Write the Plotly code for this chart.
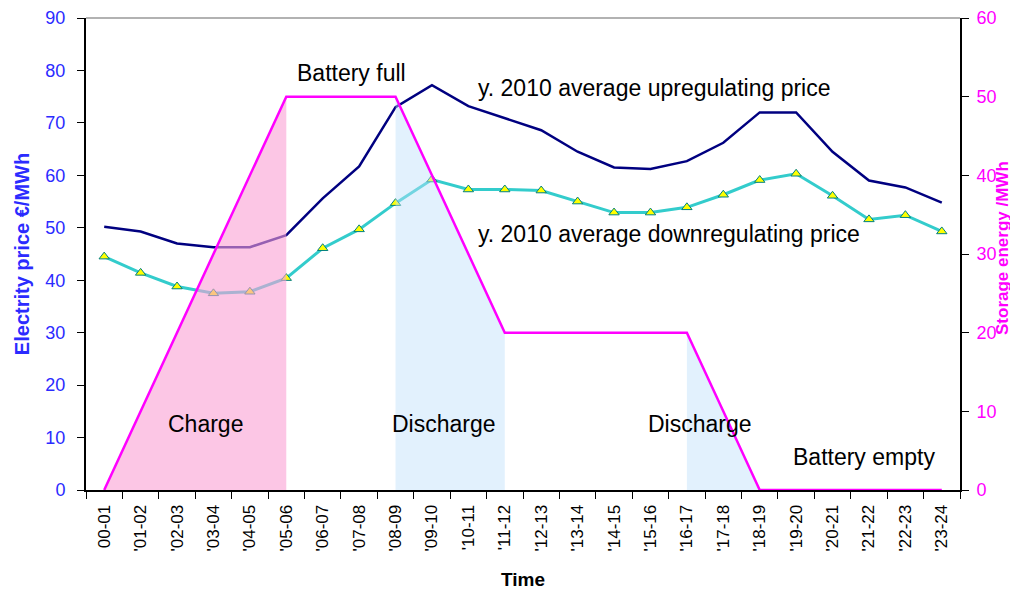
import plotly.graph_objects as go

HOURS = ["00-01"] + [f"'{h:02d}-{h + 1:02d}" for h in range(1, 24)]

UP_PRICE = [50.2, 49.3, 47.0, 46.3, 46.3, 48.6, 55.6, 61.7, 73.0, 77.2, 73.2, 70.9,
            68.6, 64.5, 61.5, 61.2, 62.7, 66.2, 72.0, 72.0, 64.5, 59.0, 57.7, 54.8]
DOWN_PRICE = [44.5, 41.4, 38.8, 37.5, 37.8, 40.4, 46.1, 49.7, 54.7, 59.2, 57.3, 57.3,
              57.1, 55.0, 52.9, 52.9, 53.9, 56.3, 59.1, 60.3, 56.1, 51.6, 52.4, 49.3]
STORAGE = [0, 10, 20, 30, 40, 50, 50, 50, 50, 40, 30, 20,
           20, 20, 20, 20, 20, 10, 0, 0, 0, 0, 0, 0]

CHARGE = slice(0, 6)
DISCHARGE_1 = slice(8, 12)
DISCHARGE_2 = slice(16, 19)

FONT = "Liberation Sans, Arial, sans-serif"
BLUE = "#2B2BFF"
MAGENTA = "#FF00FF"

fig = go.Figure()

fig.add_trace(go.Scatter(
    x=HOURS, y=UP_PRICE, mode="lines", name="upregulating",
    line=dict(color="#000080", width=2.5),
))
fig.add_trace(go.Scatter(
    x=HOURS, y=DOWN_PRICE, mode="lines+markers", name="downregulating",
    line=dict(color="#33CCCC", width=3),
    marker=dict(symbol="triangle-up", size=9, color="#FFFF00",
                line=dict(color="#008080", width=1)),
))

# shaded charge / discharge areas (under the storage curve)
for sl, col in [(CHARGE, "rgba(250,160,212,0.6)"),
                (DISCHARGE_1, "rgba(190,225,250,0.45)"),
                (DISCHARGE_2, "rgba(190,225,250,0.45)")]:
    fig.add_trace(go.Scatter(
        x=HOURS[sl], y=STORAGE[sl], yaxis="y2", mode="lines",
        line=dict(width=0), fill="tozeroy", fillcolor=col, hoverinfo="skip",
    ))

fig.add_trace(go.Scatter(
    x=HOURS, y=STORAGE, yaxis="y2", mode="lines", name="storage",
    line=dict(color=MAGENTA, width=2.5),
))

# label positions given in screen pixels of the plot box (86..960, 18..490)
notes = [
    ("Battery full", 351, 73),
    ("y. 2010 average upregulating price", 654, 88),
    ("y. 2010 average downregulating price", 669, 234),
    ("Charge", 205, 424),
    ("Discharge", 444, 424),
    ("Discharge", 700, 424),
    ("Battery empty", 864, 457),
]
for text, px_x, px_y in notes:
    fig.add_annotation(
        text=text, xref="paper", yref="paper",
        x=(px_x - 86) / 874, y=(490 - px_y) / 472,
        xanchor="center", yanchor="middle",
        showarrow=False, font=dict(family=FONT, size=23, color="#000000"),
    )

# right axis title as an annotation so it sits close to the edge
fig.add_annotation(
    text="<b>Storage energy /MWh</b>", xref="paper", yref="paper",
    x=(1002 - 86) / 874, y=(490 - 248) / 472, textangle=-90,
    xanchor="center", yanchor="middle", showarrow=False,
    font=dict(family=FONT, size=17, color=MAGENTA),
)

# grey top frame line
fig.add_shape(type="line", xref="paper", yref="paper", x0=0, x1=1, y0=1, y1=1,
              line=dict(color="#999999", width=1.5))

# page body has an 8px margin
fig.update_layout(
    width=1010, height=582,
    margin=dict(l=78, r=58, t=10, b=100, autoexpand=False),
    paper_bgcolor="white", plot_bgcolor="white",
    showlegend=False,
    font=dict(family=FONT, size=14),
    xaxis=dict(
        type="category", range=[-0.5, 23.5], tickson="boundaries", tickangle=-90,
        ticks="outside", ticklen=7, tickcolor="#000000", ticklabelstandoff=6,
        showline=True, linecolor="#000000", linewidth=2,
        showgrid=False, tickfont=dict(family=FONT, size=17, color="#000000"),
        title=dict(text="<b>Time</b>", font=dict(family=FONT, size=19, color="#000000"),
                   standoff=23),
    ),
    yaxis=dict(
        range=[0, 90], dtick=10, showgrid=False, zeroline=False,
        ticks="outside", ticklen=7, tickcolor="#000000", ticklabelstandoff=8,
        showline=True, linecolor="#000000", linewidth=2,
        tickfont=dict(family=FONT, size=18, color=BLUE),
        title=dict(text="<b>Electrity price €/MWh</b>",
                   font=dict(family=FONT, size=20, color=BLUE), standoff=10),
    ),
    yaxis2=dict(
        range=[0, 60], dtick=10, overlaying="y", side="right",
        showgrid=False, zeroline=False,
        ticks="outside", ticklen=7, tickcolor="#000000", ticklabelstandoff=4,
        showline=True, linecolor="#000000", linewidth=2,
        tickfont=dict(family=FONT, size=18, color=MAGENTA),
    ),
)

fig.write_html("out.html")
